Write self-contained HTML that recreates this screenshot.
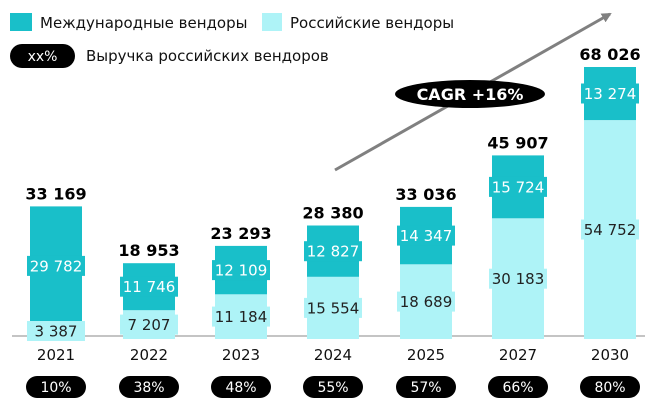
<!DOCTYPE html>
<html><head><meta charset="utf-8"><style>
html,body{margin:0;padding:0;background:#fff;}
svg{display:block;font-family:"DejaVu Sans","Liberation Sans",sans-serif;}
</style></head><body>
<svg width="650" height="409" viewBox="0 0 650 409" xmlns="http://www.w3.org/2000/svg">
<defs><marker id="ah" markerWidth="10" markerHeight="10" refX="8" refY="5" orient="auto" markerUnits="userSpaceOnUse"><path d="M0,0 L10,5 L0,10 z" fill="#808080"/></marker></defs>
<rect x="10" y="13" width="22" height="18" fill="#19bfc9"/>
<text x="40" y="28" font-size="15" fill="#111">Международные вендоры</text>
<rect x="262" y="13" width="20" height="18" fill="#aef3f7"/>
<text x="290" y="28" font-size="15" fill="#111">Российские вендоры</text>
<rect x="10" y="44" width="65" height="24" rx="12" fill="#000"/>
<text x="42.5" y="61" font-size="14" fill="#fff" text-anchor="middle">xx%</text>
<text x="86" y="61" font-size="15" fill="#111">Выручка российских вендоров</text>
<line x1="335" y1="170" x2="610" y2="14" stroke="#808080" stroke-width="3" marker-end="url(#ah)"/>
<ellipse cx="470" cy="94" rx="75" ry="14" fill="#000"/>
<text x="470" y="100" font-size="16" font-weight="bold" fill="#fff" text-anchor="middle">CAGR +16%</text>
<line x1="12" y1="336" x2="645" y2="336" stroke="#888" stroke-width="1"/>
<g font-size="15" text-anchor="middle">
<!-- 2021 -->
<rect x="30" y="325.5" width="52" height="13.5" fill="#aef3f7"/>
<rect x="30" y="206.4" width="52" height="119.1" fill="#19bfc9"/>
<rect x="27" y="255.9" width="58" height="20" fill="#19bfc9"/>
<text x="56" y="271.4" fill="#fff">29 782</text>
<rect x="27" y="321" width="58" height="20" fill="#aef3f7"/>
<text x="56" y="336.5" fill="#222">3 387</text>
<text x="56" y="199.4" font-size="16" font-weight="bold" fill="#000">33 169</text>
<text x="56" y="360" fill="#111">2021</text>
<rect x="26" y="376" width="60" height="22" rx="11" fill="#000"/>
<text x="56" y="392" font-size="14" fill="#fff">10%</text>
<!-- 2022 -->
<rect x="123" y="310.2" width="52" height="28.8" fill="#aef3f7"/>
<rect x="123" y="263.2" width="52" height="47" fill="#19bfc9"/>
<rect x="120" y="276.7" width="58" height="20" fill="#19bfc9"/>
<text x="149" y="292.2" fill="#fff">11 746</text>
<rect x="120" y="314.6" width="58" height="20" fill="#aef3f7"/>
<text x="149" y="330.1" fill="#222">7 207</text>
<text x="149" y="256.2" font-size="16" font-weight="bold" fill="#000">18 953</text>
<text x="149" y="360" fill="#111">2022</text>
<rect x="119" y="376" width="60" height="22" rx="11" fill="#000"/>
<text x="149" y="392" font-size="14" fill="#fff">38%</text>
<!-- 2023 -->
<rect x="215" y="294.3" width="52" height="44.7" fill="#aef3f7"/>
<rect x="215" y="245.9" width="52" height="48.4" fill="#19bfc9"/>
<rect x="212" y="260.1" width="58" height="20" fill="#19bfc9"/>
<text x="241" y="275.6" fill="#fff">12 109</text>
<rect x="212" y="306.6" width="58" height="20" fill="#aef3f7"/>
<text x="241" y="322.1" fill="#222">11 184</text>
<text x="241" y="238.9" font-size="16" font-weight="bold" fill="#000">23 293</text>
<text x="241" y="360" fill="#111">2023</text>
<rect x="211" y="376" width="60" height="22" rx="11" fill="#000"/>
<text x="241" y="392" font-size="14" fill="#fff">48%</text>
<!-- 2024 -->
<rect x="307" y="276.8" width="52" height="62.2" fill="#aef3f7"/>
<rect x="307" y="225.5" width="52" height="51.3" fill="#19bfc9"/>
<rect x="304" y="241.2" width="58" height="20" fill="#19bfc9"/>
<text x="333" y="256.7" fill="#fff">12 827</text>
<rect x="304" y="297.9" width="58" height="20" fill="#aef3f7"/>
<text x="333" y="313.4" fill="#222">15 554</text>
<text x="333" y="218.5" font-size="16" font-weight="bold" fill="#000">28 380</text>
<text x="333" y="360" fill="#111">2024</text>
<rect x="303" y="376" width="60" height="22" rx="11" fill="#000"/>
<text x="333" y="392" font-size="14" fill="#fff">55%</text>
<!-- 2025 -->
<rect x="400" y="264.3" width="52" height="74.7" fill="#aef3f7"/>
<rect x="400" y="206.9" width="52" height="57.4" fill="#19bfc9"/>
<rect x="397" y="225.6" width="58" height="20" fill="#19bfc9"/>
<text x="426" y="241.1" fill="#fff">14 347</text>
<rect x="397" y="291.6" width="58" height="20" fill="#aef3f7"/>
<text x="426" y="307.1" fill="#222">18 689</text>
<text x="426" y="199.9" font-size="16" font-weight="bold" fill="#000">33 036</text>
<text x="426" y="360" fill="#111">2025</text>
<rect x="396" y="376" width="60" height="22" rx="11" fill="#000"/>
<text x="426" y="392" font-size="14" fill="#fff">57%</text>
<!-- 2027 -->
<rect x="492" y="218.3" width="52" height="120.7" fill="#aef3f7"/>
<rect x="492" y="155.4" width="52" height="62.9" fill="#19bfc9"/>
<rect x="489" y="176.9" width="58" height="20" fill="#19bfc9"/>
<text x="518" y="192.4" fill="#fff">15 724</text>
<rect x="489" y="268.7" width="58" height="20" fill="#aef3f7"/>
<text x="518" y="284.2" fill="#222">30 183</text>
<text x="518" y="148.4" font-size="16" font-weight="bold" fill="#000">45 907</text>
<text x="518" y="360" fill="#111">2027</text>
<rect x="488" y="376" width="60" height="22" rx="11" fill="#000"/>
<text x="518" y="392" font-size="14" fill="#fff">66%</text>
<!-- 2030 -->
<rect x="584" y="120.1" width="52" height="218.9" fill="#aef3f7"/>
<rect x="584" y="67" width="52" height="53.1" fill="#19bfc9"/>
<rect x="581" y="83.5" width="58" height="20" fill="#19bfc9"/>
<text x="610" y="99" fill="#fff">13 274</text>
<rect x="581" y="219.5" width="58" height="20" fill="#aef3f7"/>
<text x="610" y="235" fill="#222">54 752</text>
<text x="610" y="60" font-size="16" font-weight="bold" fill="#000">68 026</text>
<text x="610" y="360" fill="#111">2030</text>
<rect x="580" y="376" width="60" height="22" rx="11" fill="#000"/>
<text x="610" y="392" font-size="14" fill="#fff">80%</text>
</g>
</svg>
</body></html>
